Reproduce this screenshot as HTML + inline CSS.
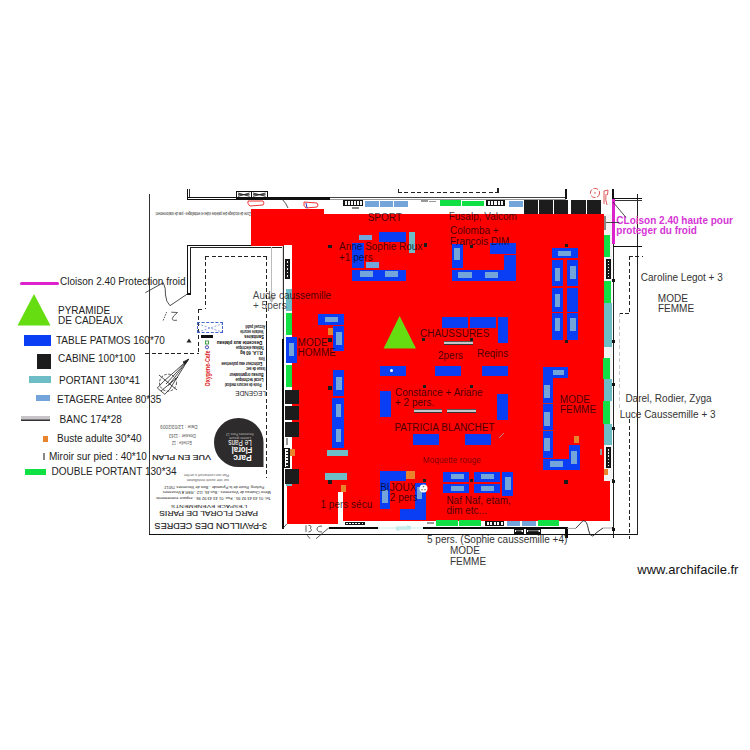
<!DOCTYPE html><html><head><meta charset="utf-8"><style>
html,body{margin:0;padding:0;background:#fff;}
body{width:750px;height:750px;position:relative;overflow:hidden;font-family:"Liberation Sans",sans-serif;}
div,span,svg{position:absolute;}
span{white-space:nowrap;}
</style></head><body>
<div style="left:149.0px;top:194.0px;width:1.0px;height:341.0px;background:#333;"></div>
<div style="left:149.0px;top:534.0px;width:489.0px;height:1.0px;background:#111;"></div>
<div style="left:637.0px;top:194.0px;width:1.0px;height:341.0px;background:#222;"></div>
<div style="left:187.0px;top:189.0px;width:1.0px;height:11.0px;background:#111;"></div>
<div style="left:189.3px;top:189.0px;width:1.0px;height:9.0px;background:#333;"></div>
<div style="left:187.0px;top:197.0px;width:143.0px;height:1.0px;background:#111;"></div>
<div style="left:330.0px;top:197.0px;width:236.0px;height:1.2px;background:#444;"></div>
<div style="left:187.0px;top:199.2px;width:143.0px;height:1.0px;background:#111;"></div>
<div style="left:330.0px;top:199.2px;width:236.0px;height:1.0px;background:#999;"></div>
<div style="left:268.0px;top:197.0px;width:62.0px;height:3.0px;background:#111;"></div>
<div style="left:236.0px;top:191.0px;width:15.8px;height:7.5px;background:#111;"></div>
<div style="left:237.1px;top:192.1px;width:13.6px;height:5.3px;background:#fff;"></div>
<svg style="left:237.1px;top:192.1px" width="13.600000000000012" height="5.3"><path d="M1 1L6.800000000000006 2.65L12.600000000000012 1M1 4.3L6.800000000000006 2.65L12.600000000000012 4.3M1 2.65L12.600000000000012 2.65" stroke="#222" stroke-width="0.9" fill="none"/></svg>
<div style="left:251.2px;top:191.0px;width:16.8px;height:7.5px;background:#111;"></div>
<div style="left:252.3px;top:192.1px;width:14.6px;height:5.3px;background:#fff;"></div>
<svg style="left:252.29999999999998px;top:192.1px" width="14.600000000000012" height="5.3"><path d="M1 1L7.300000000000006 2.65L13.600000000000012 1M1 4.3L7.300000000000006 2.65L13.600000000000012 4.3M1 2.65L13.600000000000012 2.65" stroke="#222" stroke-width="0.9" fill="none"/></svg>
<div style="left:565.0px;top:189.0px;width:2.0px;height:10.0px;background:#111;"></div>
<div style="left:612.0px;top:189.0px;width:2.0px;height:10.0px;background:#111;"></div>
<div style="left:613.0px;top:197.5px;width:29.0px;height:1.0px;background:#111;"></div>
<div style="left:613.0px;top:199.5px;width:29.0px;height:1.0px;background:#333;"></div>
<div style="left:398.0px;top:192.0px;width:100.0px;height:1px;background:repeating-linear-gradient(90deg,#222 0 4px,transparent 4px 6.5px)"></div>
<div style="left:398.0px;top:189.0px;width:1.0px;height:4.0px;background:#222;"></div>
<div style="left:497.0px;top:188.0px;width:1.5px;height:5.0px;background:#222;"></div>
<div style="left:187.0px;top:245.0px;width:97.0px;height:1.2px;background:#111;"></div>
<div style="left:189.5px;top:247.3px;width:92.5px;height:1.0px;background:#222;"></div>
<div style="left:187.0px;top:245.0px;width:1.2px;height:49.0px;background:#111;"></div>
<div style="left:189.5px;top:247.0px;width:1.0px;height:46.0px;background:#222;"></div>
<div style="left:187.0px;top:292.5px;width:3.5px;height:2.0px;background:#111;"></div>
<div style="left:271.0px;top:247.0px;width:1.0px;height:53.0px;background:#bbb;"></div>
<svg style="left:267px;top:296px" width="9" height="8"><path d="M0.5 0.5L8.5 0.5L4.5 7Z" fill="#bbb"/></svg>
<div style="left:281.5px;top:245.0px;width:2.5px;height:94.0px;background:#333;"></div>
<div style="left:282.3px;top:246.0px;width:0.9px;height:93.0px;background:#ddd;"></div>
<div style="left:281.5px;top:339.0px;width:2.5px;height:190.0px;background:#0a0a0a;"></div>
<div style="left:328.5px;top:527.0px;width:49.5px;height:2.3px;background:#0a0a0a;"></div>
<div style="left:423.0px;top:527.0px;width:144.0px;height:2.3px;background:#0a0a0a;"></div>
<div style="left:565.0px;top:527.0px;width:2.5px;height:11.0px;background:#0a0a0a;"></div>
<div style="left:378.0px;top:527.0px;width:45.0px;height:1.5px;background:#e4f6f6;"></div>
<div style="left:613.0px;top:244.0px;width:1.3px;height:294.0px;background:#222;"></div>
<div style="left:612.3px;top:279.0px;width:2.5px;height:2.5px;background:#111;"></div>
<div style="left:612.3px;top:340.0px;width:2.5px;height:2.5px;background:#111;"></div>
<div style="left:612.3px;top:383.0px;width:2.5px;height:2.5px;background:#111;"></div>
<div style="left:612.3px;top:427.0px;width:2.5px;height:2.5px;background:#111;"></div>
<div style="left:612.3px;top:480.0px;width:2.5px;height:2.5px;background:#111;"></div>
<div style="left:612.3px;top:528.0px;width:2.5px;height:2.5px;background:#111;"></div>
<div style="left:612.0px;top:199.0px;width:2.6px;height:45.0px;background:#dd22cc;"></div>
<div style="left:613.0px;top:246.0px;width:29.0px;height:1.3px;background:#111;"></div>
<div style="left:629.0px;top:256.0px;width:1px;height:57.0px;background:repeating-linear-gradient(180deg,#222 0 4px,transparent 4px 6.5px)"></div>
<div style="left:629.0px;top:255.5px;width:14.0px;height:1px;background:repeating-linear-gradient(90deg,#222 0 4px,transparent 4px 6.5px)"></div>
<div style="left:619.0px;top:313.0px;width:11.0px;height:1px;background:repeating-linear-gradient(90deg,#222 0 4px,transparent 4px 6.5px)"></div>
<div style="left:619.0px;top:313.0px;width:1px;height:96.0px;background:repeating-linear-gradient(180deg,#c8c8c8 0 4px,transparent 4px 6.5px)"></div>
<div style="left:629.0px;top:419.0px;width:1px;height:120.0px;background:repeating-linear-gradient(180deg,#222 0 4px,transparent 4px 6.5px)"></div>
<div style="left:204.5px;top:256.0px;width:1px;height:53.0px;background:repeating-linear-gradient(180deg,#222 0 4px,transparent 4px 6.5px)"></div>
<div style="left:204.5px;top:255.5px;width:62.5px;height:1px;background:repeating-linear-gradient(90deg,#222 0 4px,transparent 4px 6.5px)"></div>
<div style="left:266.0px;top:256.0px;width:1px;height:222.0px;background:repeating-linear-gradient(180deg,#222 0 4px,transparent 4px 6.5px)"></div>
<div style="left:198.0px;top:308.5px;width:7.0px;height:1px;background:repeating-linear-gradient(90deg,#222 0 4px,transparent 4px 6.5px)"></div>
<div style="left:198.0px;top:309.0px;width:1px;height:44.0px;background:repeating-linear-gradient(180deg,#222 0 4px,transparent 4px 6.5px)"></div>
<div style="left:145.0px;top:352.5px;width:54.0px;height:1px;background:repeating-linear-gradient(90deg,#222 0 4px,transparent 4px 6.5px)"></div>
<div style="left:251.0px;top:209.0px;width:73.0px;height:37.0px;background:#ff0000;"></div>
<div style="left:251.0px;top:213.7px;width:353.0px;height:32.3px;background:#ff0000;"></div>
<div style="left:292.0px;top:245.0px;width:312.0px;height:241.0px;background:#ff0000;"></div>
<div style="left:286.6px;top:486.0px;width:51.4px;height:37.8px;background:#ff0000;"></div>
<div style="left:342.7px;top:486.0px;width:267.3px;height:35.0px;background:#ff0000;"></div>
<div style="left:338.0px;top:486.0px;width:4.7px;height:5.5px;background:#ff0000;"></div>
<div style="left:604.0px;top:481.0px;width:6.0px;height:40.0px;background:#ff0000;"></div>
<svg style="left:280px;top:198px" width="12" height="12"><path d="M2 1Q6 5 8 10" stroke="#222" stroke-width="0.8" fill="none"/></svg>
<div style="left:284.0px;top:245.0px;width:8.0px;height:241.0px;background:#fff;"></div>
<div style="left:284.7px;top:259.3px;width:5.3px;height:19.4px;background:#fff;box-sizing:border-box;border:0.8px solid #111;"></div>
<div style="left:285.9px;top:260.3px;width:3.0px;height:17.4px;background:#1c1c1c;"></div>
<div style="left:286.6px;top:261.3px;width:1.6px;height:1.4px;background:#f4f4f4;"></div>
<div style="left:286.6px;top:264.8px;width:1.6px;height:1.4px;background:#f4f4f4;"></div>
<div style="left:286.6px;top:268.3px;width:1.6px;height:1.4px;background:#f4f4f4;"></div>
<div style="left:286.6px;top:271.8px;width:1.6px;height:1.4px;background:#f4f4f4;"></div>
<div style="left:286.6px;top:275.3px;width:1.6px;height:1.4px;background:#f4f4f4;"></div>
<div style="left:286.0px;top:289.3px;width:6.0px;height:22.0px;background:#6dbcc6;"></div>
<div style="left:286.0px;top:312.7px;width:6.0px;height:22.3px;background:#11e044;"></div>
<div style="left:286.0px;top:337.0px;width:10.5px;height:25.5px;background:#0a3ef5;"></div>
<div style="left:289.0px;top:342.8px;width:5.4px;height:13.2px;background:#74a5da;"></div>
<div style="left:286.0px;top:365.2px;width:6.0px;height:21.8px;background:#11e044;"></div>
<div style="left:285.0px;top:390.3px;width:14.0px;height:13.3px;background:#1c1c1c;"></div>
<div style="left:285.0px;top:406.2px;width:14.0px;height:14.1px;background:#1c1c1c;"></div>
<div style="left:285.0px;top:422.2px;width:14.0px;height:14.6px;background:#1c1c1c;"></div>
<div style="left:286.0px;top:438.0px;width:2.0px;height:7.0px;background:#999;"></div>
<div style="left:284.2px;top:447.5px;width:5.7px;height:20.2px;background:#fff;box-sizing:border-box;border:0.8px solid #111;"></div>
<div style="left:285.5px;top:448.5px;width:3.2px;height:18.2px;background:#1c1c1c;"></div>
<div style="left:286.2px;top:449.3px;width:1.6px;height:1.4px;background:#f4f4f4;"></div>
<div style="left:286.2px;top:452.3px;width:1.6px;height:1.4px;background:#f4f4f4;"></div>
<div style="left:286.2px;top:455.4px;width:1.6px;height:1.4px;background:#f4f4f4;"></div>
<div style="left:286.2px;top:458.4px;width:1.6px;height:1.4px;background:#f4f4f4;"></div>
<div style="left:286.2px;top:461.4px;width:1.6px;height:1.4px;background:#f4f4f4;"></div>
<div style="left:286.2px;top:464.5px;width:1.6px;height:1.4px;background:#f4f4f4;"></div>
<div style="left:290.0px;top:449.0px;width:5.0px;height:6.5px;background:#e8842c;"></div>
<div style="left:285.0px;top:469.0px;width:14.0px;height:14.5px;background:#1c1c1c;"></div>
<div style="left:286.0px;top:483.5px;width:6.0px;height:2.5px;background:#6dbcc6;"></div>
<div style="left:604.0px;top:214.0px;width:8.0px;height:267.0px;background:#f3f3f3;"></div>
<div style="left:604.0px;top:216.0px;width:2.0px;height:14.0px;background:#888;"></div>
<div style="left:604.4px;top:235.3px;width:5.6px;height:21.4px;background:#11e044;"></div>
<div style="left:606.0px;top:258.7px;width:5.0px;height:20.6px;background:#fff;box-sizing:border-box;border:0.8px solid #111;"></div>
<div style="left:607.1px;top:259.7px;width:2.8px;height:18.6px;background:#1c1c1c;"></div>
<div style="left:607.7px;top:260.6px;width:1.6px;height:1.4px;background:#f4f4f4;"></div>
<div style="left:607.7px;top:263.7px;width:1.6px;height:1.4px;background:#f4f4f4;"></div>
<div style="left:607.7px;top:266.8px;width:1.6px;height:1.4px;background:#f4f4f4;"></div>
<div style="left:607.7px;top:269.9px;width:1.6px;height:1.4px;background:#f4f4f4;"></div>
<div style="left:607.7px;top:273.0px;width:1.6px;height:1.4px;background:#f4f4f4;"></div>
<div style="left:607.7px;top:276.1px;width:1.6px;height:1.4px;background:#f4f4f4;"></div>
<div style="left:604.0px;top:280.7px;width:7.0px;height:22.0px;background:#11e044;"></div>
<div style="left:604.0px;top:302.7px;width:8.0px;height:44.0px;background:#6dbcc6;"></div>
<div style="left:603.3px;top:358.0px;width:6.7px;height:20.7px;background:#11e044;"></div>
<div style="left:604.0px;top:378.7px;width:8.0px;height:22.6px;background:#6dbcc6;"></div>
<div style="left:603.3px;top:401.3px;width:6.7px;height:22.4px;background:#11e044;"></div>
<div style="left:604.0px;top:423.7px;width:8.0px;height:21.6px;background:#6dbcc6;"></div>
<div style="left:606.0px;top:447.3px;width:5.0px;height:20.7px;background:#fff;box-sizing:border-box;border:0.8px solid #111;"></div>
<div style="left:607.1px;top:448.3px;width:2.8px;height:18.7px;background:#1c1c1c;"></div>
<div style="left:607.7px;top:449.2px;width:1.6px;height:1.4px;background:#f4f4f4;"></div>
<div style="left:607.7px;top:452.3px;width:1.6px;height:1.4px;background:#f4f4f4;"></div>
<div style="left:607.7px;top:455.4px;width:1.6px;height:1.4px;background:#f4f4f4;"></div>
<div style="left:607.7px;top:458.5px;width:1.6px;height:1.4px;background:#f4f4f4;"></div>
<div style="left:607.7px;top:461.6px;width:1.6px;height:1.4px;background:#f4f4f4;"></div>
<div style="left:607.7px;top:464.7px;width:1.6px;height:1.4px;background:#f4f4f4;"></div>
<div style="left:604.0px;top:469.3px;width:4.0px;height:5.4px;background:#e8842c;"></div>
<div style="left:600.0px;top:449.0px;width:1.5px;height:6.0px;background:#999;"></div>
<div style="left:343.3px;top:200.3px;width:20.0px;height:5.4px;background:#111;"></div>
<div style="left:344.9px;top:201.3px;width:1.8px;height:3.4px;background:#f4f4f4;"></div>
<div style="left:347.9px;top:201.3px;width:1.8px;height:3.4px;background:#f4f4f4;"></div>
<div style="left:350.9px;top:201.3px;width:1.8px;height:3.4px;background:#f4f4f4;"></div>
<div style="left:353.9px;top:201.3px;width:1.8px;height:3.4px;background:#f4f4f4;"></div>
<div style="left:356.9px;top:201.3px;width:1.8px;height:3.4px;background:#f4f4f4;"></div>
<div style="left:359.9px;top:201.3px;width:1.8px;height:3.4px;background:#f4f4f4;"></div>
<div style="left:352.0px;top:207.0px;width:7.0px;height:2.0px;background:#888;"></div>
<div style="left:365.0px;top:201.0px;width:13.6px;height:5.6px;background:#74a5da;"></div>
<div style="left:379.6px;top:201.0px;width:13.6px;height:5.6px;background:#74a5da;"></div>
<div style="left:394.2px;top:201.0px;width:13.8px;height:5.6px;background:#74a5da;"></div>
<div style="left:421.0px;top:200.2px;width:7.0px;height:1.4px;background:#999;"></div>
<div style="left:429.0px;top:200.6px;width:7.0px;height:1.4px;background:#999;"></div>
<div style="left:440.0px;top:200.0px;width:20.7px;height:6.4px;background:#11e044;"></div>
<div style="left:462.0px;top:200.7px;width:22.0px;height:5.3px;background:#11e044;"></div>
<div style="left:486.0px;top:200.0px;width:19.0px;height:6.0px;background:#111;"></div>
<div style="left:487.6px;top:201.0px;width:2.2px;height:4.0px;background:#f4f4f4;"></div>
<div style="left:491.0px;top:201.0px;width:2.2px;height:4.0px;background:#f4f4f4;"></div>
<div style="left:494.4px;top:201.0px;width:2.2px;height:4.0px;background:#f4f4f4;"></div>
<div style="left:497.8px;top:201.0px;width:2.2px;height:4.0px;background:#f4f4f4;"></div>
<div style="left:501.2px;top:201.0px;width:2.2px;height:4.0px;background:#f4f4f4;"></div>
<div style="left:508.8px;top:200.8px;width:14.4px;height:6.1px;background:#74a5da;"></div>
<div style="left:524.3px;top:199.5px;width:13.7px;height:14.5px;background:#1c1c1c;"></div>
<div style="left:539.0px;top:199.5px;width:14.0px;height:14.5px;background:#1c1c1c;"></div>
<div style="left:554.0px;top:199.5px;width:14.0px;height:14.5px;background:#1c1c1c;"></div>
<div style="left:571.0px;top:199.5px;width:14.5px;height:14.5px;background:#1c1c1c;"></div>
<div style="left:586.5px;top:199.5px;width:14.3px;height:14.5px;background:#1c1c1c;"></div>
<svg style="left:246px;top:199px" width="20" height="9"><path d="M2 2L17 2Q19 4 17 6L4 7Q1 5 2 2Z" stroke="#e33" stroke-width="1" fill="none"/></svg>
<svg style="left:302px;top:199.5px" width="18" height="10"><path d="M2 2L15 3Q17 5 15 7L4 8Q1 6 2 2Z" stroke="#e33" stroke-width="1" fill="none"/><path d="M4 3L5 8" stroke="#33c" stroke-width="1"/></svg>
<svg style="left:588px;top:186px" width="24" height="22"><circle cx="7" cy="7" r="4.6" stroke="#d44" stroke-width="0.9" fill="none" stroke-dasharray="5 1.5"/><circle cx="7" cy="7" r="0.8" fill="#d44"/><path d="M16 5L16 18M16 5L20 4L19.5 9M18 8Q17 14 19 19" stroke="#d44" stroke-width="0.9" fill="none"/></svg>
<div style="left:344.5px;top:521.7px;width:20.5px;height:3.6px;background:#111;"></div>
<div style="left:346.1px;top:522.7px;width:1.9px;height:1.6px;background:#f4f4f4;"></div>
<div style="left:349.2px;top:522.7px;width:1.9px;height:1.6px;background:#f4f4f4;"></div>
<div style="left:352.3px;top:522.7px;width:1.9px;height:1.6px;background:#f4f4f4;"></div>
<div style="left:355.4px;top:522.7px;width:1.9px;height:1.6px;background:#f4f4f4;"></div>
<div style="left:358.4px;top:522.7px;width:1.9px;height:1.6px;background:#f4f4f4;"></div>
<div style="left:361.5px;top:522.7px;width:1.9px;height:1.6px;background:#f4f4f4;"></div>
<div style="left:427.0px;top:522.0px;width:7.0px;height:2.0px;background:#999;"></div>
<div style="left:436.0px;top:520.0px;width:22.0px;height:5.6px;background:#11e044;"></div>
<div style="left:459.0px;top:520.0px;width:22.0px;height:5.6px;background:#11e044;"></div>
<div style="left:485.0px;top:521.0px;width:19.4px;height:5.0px;background:#111;"></div>
<div style="left:486.6px;top:522.0px;width:2.3px;height:3.0px;background:#f4f4f4;"></div>
<div style="left:490.1px;top:522.0px;width:2.3px;height:3.0px;background:#f4f4f4;"></div>
<div style="left:493.6px;top:522.0px;width:2.3px;height:3.0px;background:#f4f4f4;"></div>
<div style="left:497.0px;top:522.0px;width:2.3px;height:3.0px;background:#f4f4f4;"></div>
<div style="left:500.5px;top:522.0px;width:2.3px;height:3.0px;background:#f4f4f4;"></div>
<div style="left:507.0px;top:520.5px;width:13.0px;height:5.1px;background:#74a5da;"></div>
<div style="left:522.0px;top:520.5px;width:13.6px;height:5.1px;background:#74a5da;"></div>
<div style="left:538.0px;top:520.0px;width:20.8px;height:5.6px;background:#11e044;"></div>
<div style="left:514.0px;top:528.5px;width:10.0px;height:5.0px;background:#111;"></div>
<div style="left:515.3px;top:529.8px;width:7.4px;height:2.4px;background:#fff;"></div>
<svg style="left:515.3px;top:529.8px" width="7.4" height="2.4"><path d="M1 1L3.7 1.2L6.4 1M1 1.4L3.7 1.2L6.4 1.4M1 1.2L6.4 1.2" stroke="#222" stroke-width="0.9" fill="none"/></svg>
<div style="left:526.0px;top:528.5px;width:15.0px;height:5.0px;background:#111;"></div>
<div style="left:527.3px;top:529.8px;width:12.4px;height:2.4px;background:#fff;"></div>
<svg style="left:527.3px;top:529.8px" width="12.4" height="2.4"><path d="M1 1L6.2 1.2L11.4 1M1 1.4L6.2 1.2L11.4 1.4M1 1.2L11.4 1.2" stroke="#222" stroke-width="0.9" fill="none"/></svg>
<svg style="left:566px;top:518px" width="48" height="22"><path d="M1 10.4L9.7 10.4M37 10L47 10" stroke="#999" stroke-width="0.9" fill="none"/><path d="M9.7 10.4L17 2.7Q21 2 22.5 12Q23.5 18 26.5 18Q28 18 30 15L37 10" stroke="#222" stroke-width="0.9" fill="none"/></svg>
<div style="left:612.3px;top:479.0px;width:2.0px;height:2.0px;background:#1c1c1c;"></div>
<div style="left:612.3px;top:527.0px;width:2.0px;height:2.0px;background:#1c1c1c;"></div>
<svg style="left:280px;top:518px" width="60" height="24"><g stroke="#333" stroke-width="0.8" fill="none"><path d="M2.7 10.7L6.7 6"/><path d="M26 7.3L26 14"/><path d="M28.5 7.5Q32 7 30.5 10.5Q33 13 28.5 14"/><path d="M42 8Q37 8 37 11Q37 14 42 14"/><path d="M27.3 17.3L30 20.7"/><path d="M36 20.7L48.7 10"/></g></svg>
<svg style="left:395px;top:524px" width="18" height="8"><path d="M1 3L16 3M1 5L16 5M12 1.5L15 3M4 6.5L1 5" stroke="#9dd" stroke-width="0.8" fill="none"/></svg>
<div style="left:359.0px;top:235.0px;width:13.0px;height:5.0px;background:#74a5da;"></div>
<div style="left:379.3px;top:232.3px;width:26.3px;height:9.7px;background:#0a3ef5;"></div>
<div style="left:408.7px;top:232.3px;width:6.6px;height:21.0px;background:#6dbcc6;"></div>
<div style="left:352.3px;top:242.7px;width:11.7px;height:25.3px;background:#0a3ef5;"></div>
<div style="left:366.0px;top:262.4px;width:13.0px;height:5.3px;background:#74a5da;"></div>
<div style="left:352.3px;top:270.0px;width:53.3px;height:10.7px;background:#0a3ef5;"></div>
<div style="left:360.0px;top:271.3px;width:12.7px;height:5.7px;background:#74a5da;"></div>
<div style="left:385.0px;top:271.3px;width:13.0px;height:5.7px;background:#74a5da;"></div>
<div style="left:328.3px;top:244.5px;width:3.5px;height:3.5px;background:#1c1c1c;"></div>
<div style="left:423.7px;top:243.3px;width:3.3px;height:3.3px;background:#1c1c1c;"></div>
<div style="left:452.0px;top:243.7px;width:10.7px;height:24.0px;background:#0a3ef5;"></div>
<div style="left:454.0px;top:247.7px;width:5.6px;height:12.6px;background:#74a5da;"></div>
<div style="left:452.0px;top:270.0px;width:64.0px;height:10.7px;background:#0a3ef5;"></div>
<div style="left:458.3px;top:271.7px;width:13.3px;height:6.0px;background:#74a5da;"></div>
<div style="left:484.7px;top:271.7px;width:13.3px;height:6.0px;background:#74a5da;"></div>
<div style="left:504.0px;top:255.4px;width:12.0px;height:14.6px;background:#0a3ef5;"></div>
<div style="left:490.0px;top:243.0px;width:26.0px;height:11.2px;background:#0a3ef5;"></div>
<div style="left:470.0px;top:244.5px;width:3.0px;height:3.0px;background:#1c1c1c;"></div>
<div style="left:552.0px;top:248.0px;width:26.0px;height:10.2px;background:#0a3ef5;"></div>
<div style="left:558.0px;top:250.8px;width:13.3px;height:5.5px;background:#74a5da;"></div>
<div style="left:552.0px;top:260.0px;width:10.6px;height:26.0px;background:#0a3ef5;"></div>
<div style="left:567.4px;top:260.0px;width:10.6px;height:26.0px;background:#0a3ef5;"></div>
<div style="left:552.0px;top:287.5px;width:10.6px;height:24.5px;background:#0a3ef5;"></div>
<div style="left:567.4px;top:287.5px;width:10.6px;height:24.5px;background:#0a3ef5;"></div>
<div style="left:552.0px;top:313.4px;width:10.6px;height:26.4px;background:#0a3ef5;"></div>
<div style="left:567.4px;top:313.4px;width:10.6px;height:26.4px;background:#0a3ef5;"></div>
<div style="left:555.0px;top:268.0px;width:5.0px;height:12.7px;background:#74a5da;"></div>
<div style="left:555.0px;top:293.7px;width:5.0px;height:13.1px;background:#74a5da;"></div>
<div style="left:555.0px;top:317.8px;width:5.0px;height:13.2px;background:#74a5da;"></div>
<div style="left:570.0px;top:265.8px;width:5.7px;height:13.2px;background:#74a5da;"></div>
<div style="left:570.0px;top:317.8px;width:5.7px;height:13.2px;background:#74a5da;"></div>
<div style="left:565.0px;top:244.0px;width:3.0px;height:3.0px;background:#1c1c1c;"></div>
<div style="left:565.0px;top:340.0px;width:2.5px;height:2.5px;background:#1c1c1c;"></div>
<div style="left:318.0px;top:314.0px;width:25.7px;height:10.7px;background:#0a3ef5;"></div>
<div style="left:325.0px;top:316.7px;width:13.0px;height:5.3px;background:#74a5da;"></div>
<div style="left:328.0px;top:328.0px;width:4.7px;height:6.7px;background:#e8842c;"></div>
<div style="left:333.3px;top:326.0px;width:10.5px;height:25.3px;background:#0a3ef5;"></div>
<div style="left:336.0px;top:332.0px;width:6.0px;height:13.0px;background:#74a5da;"></div>
<div style="left:328.2px;top:338.3px;width:3.5px;height:3.5px;background:#1c1c1c;"></div>
<div style="left:333.3px;top:370.3px;width:10.5px;height:25.3px;background:#0a3ef5;"></div>
<div style="left:336.0px;top:376.7px;width:6.0px;height:13.0px;background:#74a5da;"></div>
<div style="left:332.3px;top:398.3px;width:11.5px;height:49.7px;background:#0a3ef5;"></div>
<div style="left:336.0px;top:404.0px;width:5.0px;height:13.0px;background:#74a5da;"></div>
<div style="left:336.0px;top:429.3px;width:5.0px;height:12.7px;background:#74a5da;"></div>
<div style="left:328.0px;top:386.0px;width:3.5px;height:3.5px;background:#1c1c1c;"></div>
<div style="left:327.0px;top:449.6px;width:21.3px;height:6.4px;background:#6dbcc6;"></div>
<div style="left:325.3px;top:473.3px;width:21.7px;height:6.7px;background:#6dbcc6;"></div>
<div style="left:328.0px;top:480.0px;width:3.5px;height:3.5px;background:#1c1c1c;"></div>
<div style="left:341.0px;top:485.0px;width:5.0px;height:7.0px;background:#e8842c;"></div>
<div style="left:338.0px;top:491.5px;width:4.7px;height:32.3px;background:#fff;"></div>
<svg style="left:383px;top:315px" width="34" height="35"><path d="M16.6 1L33 33.6L0.6 33.6Z" fill="#66dd11"/></svg>
<div style="left:442.0px;top:316.6px;width:26.0px;height:11.4px;background:#0a3ef5;"></div>
<div style="left:470.0px;top:316.6px;width:25.6px;height:11.4px;background:#0a3ef5;"></div>
<div style="left:497.6px;top:316.6px;width:10.0px;height:26.0px;background:#0a3ef5;"></div>
<div style="left:444.4px;top:341.0px;width:28.6px;height:4.2px;background:#c8c4c8;box-shadow:inset 0 -1px 0 #333,inset 0 1px 0 #555;"></div>
<div style="left:422.0px;top:338.0px;width:3.0px;height:3.0px;background:#1c1c1c;"></div>
<div style="left:469.5px;top:338.0px;width:3.0px;height:3.0px;background:#1c1c1c;"></div>
<div style="left:380.0px;top:366.0px;width:26.0px;height:10.0px;background:#0a3ef5;"></div>
<div style="left:390.0px;top:369.0px;width:3.0px;height:3.0px;background:#fff;border-radius:50%;"></div>
<div style="left:435.0px;top:366.0px;width:26.0px;height:10.0px;background:#0a3ef5;"></div>
<div style="left:482.0px;top:366.0px;width:26.0px;height:10.0px;background:#0a3ef5;"></div>
<div style="left:380.4px;top:391.4px;width:10.6px;height:25.6px;background:#0a3ef5;"></div>
<div style="left:497.0px;top:394.0px;width:11.0px;height:26.0px;background:#0a3ef5;"></div>
<div style="left:413.6px;top:408.6px;width:28.8px;height:4.6px;background:#c8c4c8;box-shadow:inset 0 -1px 0 #333,inset 0 1px 0 #555;"></div>
<div style="left:447.0px;top:408.6px;width:29.0px;height:4.6px;background:#c8c4c8;box-shadow:inset 0 -1px 0 #333,inset 0 1px 0 #555;"></div>
<div style="left:423.0px;top:385.0px;width:3.0px;height:3.0px;background:#1c1c1c;"></div>
<div style="left:470.0px;top:385.0px;width:3.0px;height:3.0px;background:#1c1c1c;"></div>
<div style="left:413.0px;top:434.0px;width:26.0px;height:11.4px;background:#0a3ef5;"></div>
<div style="left:465.0px;top:434.0px;width:26.0px;height:11.4px;background:#0a3ef5;"></div>
<svg style="left:498px;top:431px" width="8" height="8"><path d="M1 7L6 2" stroke="#b88" stroke-width="1"/></svg>
<div style="left:542.5px;top:366.5px;width:25.5px;height:11.2px;background:#0a3ef5;"></div>
<div style="left:551.0px;top:370.0px;width:13.0px;height:5.1px;background:#74a5da;"></div>
<div style="left:542.5px;top:366.5px;width:10.5px;height:91.8px;background:#0a3ef5;"></div>
<div style="left:542.5px;top:403.3px;width:10.5px;height:1.0px;background:#c03030;"></div>
<div style="left:542.5px;top:430.3px;width:10.5px;height:1.0px;background:#c03030;"></div>
<div style="left:544.2px;top:384.7px;width:6.1px;height:13.5px;background:#74a5da;"></div>
<div style="left:544.2px;top:412.4px;width:6.1px;height:13.5px;background:#74a5da;"></div>
<div style="left:544.2px;top:437.5px;width:6.1px;height:13.0px;background:#74a5da;"></div>
<div style="left:542.5px;top:459.2px;width:26.0px;height:10.4px;background:#0a3ef5;"></div>
<div style="left:550.3px;top:461.3px;width:13.0px;height:5.7px;background:#74a5da;"></div>
<div style="left:569.3px;top:444.5px;width:10.4px;height:25.1px;background:#0a3ef5;"></div>
<div style="left:571.0px;top:450.5px;width:6.0px;height:13.0px;background:#74a5da;"></div>
<div style="left:573.7px;top:435.8px;width:5.3px;height:6.9px;background:#e8842c;"></div>
<div style="left:564.0px;top:480.0px;width:3.5px;height:3.5px;background:#1c1c1c;"></div>
<div style="left:380.2px;top:471.0px;width:25.8px;height:10.4px;background:#0a3ef5;"></div>
<div style="left:380.2px;top:471.0px;width:10.2px;height:38.0px;background:#0a3ef5;"></div>
<div style="left:382.0px;top:489.8px;width:6.0px;height:13.2px;background:#74a5da;"></div>
<div style="left:406.0px;top:471.0px;width:9.0px;height:8.0px;background:#e8842c;"></div>
<div style="left:415.0px;top:482.6px;width:10.8px;height:37.8px;background:#0a3ef5;"></div>
<div style="left:416.8px;top:486.8px;width:5.4px;height:12.6px;background:#74a5da;"></div>
<div style="left:400.0px;top:509.4px;width:25.8px;height:11.0px;background:#0a3ef5;"></div>
<div style="left:423.4px;top:478.7px;width:3.0px;height:3.0px;background:#1c1c1c;"></div>
<svg style="left:418.5px;top:483.5px" width="9" height="9"><circle cx="4.5" cy="4.5" r="4" fill="#fff"/><circle cx="4.5" cy="2.6" r="0.8" fill="#777"/><circle cx="3" cy="5.8" r="0.8" fill="#777"/><circle cx="6" cy="5.8" r="0.8" fill="#777"/></svg>
<div style="left:443.2px;top:471.5px;width:26.0px;height:10.8px;background:#0a3ef5;"></div>
<div style="left:443.2px;top:483.8px;width:26.0px;height:9.6px;background:#0a3ef5;"></div>
<div style="left:450.6px;top:474.2px;width:13.4px;height:4.8px;background:#74a5da;"></div>
<div style="left:450.6px;top:486.2px;width:13.4px;height:4.8px;background:#74a5da;"></div>
<div style="left:473.7px;top:471.5px;width:26.1px;height:10.8px;background:#0a3ef5;"></div>
<div style="left:473.7px;top:483.8px;width:26.1px;height:9.6px;background:#0a3ef5;"></div>
<div style="left:481.2px;top:474.2px;width:12.8px;height:4.8px;background:#74a5da;"></div>
<div style="left:481.2px;top:486.2px;width:12.8px;height:4.8px;background:#74a5da;"></div>
<div style="left:502.2px;top:471.5px;width:11.1px;height:24.9px;background:#0a3ef5;"></div>
<div style="left:505.2px;top:477.2px;width:5.4px;height:13.0px;background:#74a5da;"></div>
<div style="left:470.4px;top:479.0px;width:3.0px;height:3.0px;background:#1c1c1c;"></div>
<span style="left:367.7px;top:213.0px;font-size:10px;line-height:10px;color:rgba(0,0,0,0.74);font-weight:normal;">SPORT</span>
<span style="left:339.0px;top:242.2px;font-size:10px;line-height:10px;color:rgba(0,0,0,0.74);font-weight:normal;">Anne Sophie Roux</span>
<span style="left:339.0px;top:252.7px;font-size:10px;line-height:10px;color:rgba(0,0,0,0.74);font-weight:normal;">+1 pers</span>
<span style="left:448.7px;top:212.0px;font-size:10px;line-height:10px;color:rgba(0,0,0,0.74);font-weight:normal;">Fusalp, Valcom</span>
<span style="left:450.0px;top:225.7px;font-size:10px;line-height:10px;color:rgba(0,0,0,0.74);font-weight:normal;">Colomba +</span>
<span style="left:450.0px;top:237.0px;font-size:10px;line-height:10px;color:rgba(0,0,0,0.74);font-weight:normal;">Francois DIM</span>
<span style="left:252.8px;top:291.0px;font-size:10px;line-height:10px;color:rgba(0,0,0,0.74);font-weight:normal;">Aude caussemille</span>
<span style="left:253.0px;top:300.7px;font-size:10px;line-height:10px;color:rgba(0,0,0,0.74);font-weight:normal;">+ 5pers</span>
<span style="left:297.6px;top:337.7px;font-size:10px;line-height:10px;color:rgba(0,0,0,0.74);font-weight:normal;">MODE</span>
<span style="left:297.6px;top:347.9px;font-size:10px;line-height:10px;color:rgba(0,0,0,0.74);font-weight:normal;">HOMME</span>
<span style="left:420.0px;top:328.7px;font-size:10px;line-height:10px;color:rgba(0,0,0,0.74);font-weight:normal;">CHAUSSURES</span>
<span style="left:438.0px;top:350.7px;font-size:10px;line-height:10px;color:rgba(0,0,0,0.74);font-weight:normal;">2pers</span>
<span style="left:477.0px;top:349.3px;font-size:10px;line-height:10px;color:rgba(0,0,0,0.74);font-weight:normal;">Reqins</span>
<span style="left:395.0px;top:388.1px;font-size:10px;line-height:10px;color:rgba(0,0,0,0.74);font-weight:normal;">Constance + Ariane</span>
<span style="left:395.0px;top:398.1px;font-size:10px;line-height:10px;color:rgba(0,0,0,0.74);font-weight:normal;">+ 2 pers.</span>
<span style="left:394.4px;top:422.7px;font-size:10px;line-height:10px;color:rgba(0,0,0,0.74);font-weight:normal;">PATRICIA BLANCHET</span>
<span style="left:559.8px;top:395.1px;font-size:10px;line-height:10px;color:rgba(0,0,0,0.74);font-weight:normal;">MODE</span>
<span style="left:560.0px;top:404.5px;font-size:10px;line-height:10px;color:rgba(0,0,0,0.74);font-weight:normal;">FEMME</span>
<span style="left:422.8px;top:456.3px;font-size:8.3px;line-height:8.3px;color:rgba(0,0,0,0.55);font-weight:normal;">Moquette rouge</span>
<span style="left:380.2px;top:482.5px;font-size:10px;line-height:10px;color:rgba(0,0,0,0.74);font-weight:normal;">BIJOUX</span>
<span style="left:389.8px;top:493.3px;font-size:10px;line-height:10px;color:rgba(0,0,0,0.74);font-weight:normal;">2 pers</span>
<span style="left:446.4px;top:496.1px;font-size:10px;line-height:10px;color:rgba(0,0,0,0.74);font-weight:normal;">Naf Naf, etam,</span>
<span style="left:446.4px;top:505.9px;font-size:10px;line-height:10px;color:rgba(0,0,0,0.74);font-weight:normal;">dim etc...</span>
<span style="left:320.5px;top:500.3px;font-size:10px;line-height:10px;color:rgba(0,0,0,0.74);font-weight:normal;">1 pers sécu</span>
<span style="left:427.0px;top:535.2px;font-size:10px;line-height:10px;color:#333;font-weight:normal;">5 pers. (Sophie caussemille +4)</span>
<span style="left:450.0px;top:546.1px;font-size:10px;line-height:10px;color:#333;font-weight:normal;">MODE</span>
<span style="left:450.0px;top:556.9px;font-size:10px;line-height:10px;color:#333;font-weight:normal;">FEMME</span>
<span style="left:640.8px;top:273.0px;font-size:10px;line-height:10px;color:#333;font-weight:normal;">Caroline Legot + 3</span>
<span style="left:657.8px;top:293.9px;font-size:10px;line-height:10px;color:#333;font-weight:normal;">MODE</span>
<span style="left:658.0px;top:304.1px;font-size:10px;line-height:10px;color:#333;font-weight:normal;">FEMME</span>
<span style="left:625.4px;top:393.7px;font-size:10px;line-height:10px;color:#333;font-weight:normal;">Darel, Rodier, Zyga</span>
<span style="left:619.7px;top:409.7px;font-size:10px;line-height:10px;color:#333;font-weight:normal;">Luce Caussemille + 3</span>
<span style="left:616.3px;top:215.9px;font-size:10px;line-height:10px;color:#d535d5;font-weight:bold;">CLoison 2.40 haute pour</span>
<span style="left:616.3px;top:225.6px;font-size:10px;line-height:10px;color:#d535d5;font-weight:bold;">proteger du froid</span>
<span style="left:637.3px;top:563.3px;font-size:13px;line-height:13px;color:#111;font-weight:normal;">www.archifacile.fr</span>
<svg style="left:606px;top:199px" width="26" height="50" viewBox="-6 0 26 50"><path d="M1 3L14 18.5M-6 23.5L7 23.5" stroke="#222" stroke-width="0.8" fill="none"/></svg>
<div style="left:20.0px;top:281.5px;width:39.0px;height:3.0px;background:#dd22cc;border-radius:1.5px;"></div>
<svg style="left:17px;top:293px" width="35" height="34"><path d="M17 1L33.5 32.5L0.5 32.5Z" fill="#66dd11"/></svg>
<div style="left:24.0px;top:335.0px;width:27.0px;height:10.7px;background:#0a3ef5;"></div>
<div style="left:37.0px;top:354.0px;width:14.0px;height:14.7px;background:#1c1c1c;"></div>
<div style="left:29.0px;top:376.2px;width:22.0px;height:6.7px;background:#6dbcc6;"></div>
<div style="left:36.0px;top:395.2px;width:14.0px;height:6.3px;background:#74a5da;"></div>
<div style="left:21.0px;top:416.2px;width:29.0px;height:4.6px;background:#c8c4c8;box-shadow:inset 0 -1.5px 0 #333;"></div>
<div style="left:43.0px;top:436.3px;width:5.0px;height:5.4px;background:#e8842c;"></div>
<div style="left:43.0px;top:453.3px;width:2.0px;height:6.7px;background:#888;"></div>
<div style="left:25.0px;top:469.0px;width:21.0px;height:5.8px;background:#11e044;"></div>
<span style="left:60.0px;top:277.1px;font-size:10px;line-height:10px;color:#222;font-weight:normal;">Cloison 2.40 Protection froid</span>
<span style="left:58.0px;top:305.7px;font-size:10px;line-height:10px;color:#222;font-weight:normal;">PYRAMIDE</span>
<span style="left:58.0px;top:316.2px;font-size:10px;line-height:10px;color:#222;font-weight:normal;">DE CADEAUX</span>
<span style="left:56.0px;top:335.7px;font-size:10px;line-height:10px;color:#222;font-weight:normal;">TABLE PATMOS 160*70</span>
<span style="left:58.0px;top:354.3px;font-size:10px;line-height:10px;color:#222;font-weight:normal;">CABINE 100*100</span>
<span style="left:59.0px;top:375.7px;font-size:10px;line-height:10px;color:#222;font-weight:normal;">PORTANT 130*41</span>
<span style="left:57.0px;top:395.1px;font-size:10px;line-height:10px;color:#222;font-weight:normal;">ETAGERE Antee 80*35</span>
<span style="left:59.6px;top:414.7px;font-size:10px;line-height:10px;color:#222;font-weight:normal;">BANC 174*28</span>
<span style="left:57.0px;top:433.7px;font-size:10px;line-height:10px;color:#222;font-weight:normal;">Buste adulte 30*40</span>
<span style="left:49.0px;top:451.7px;font-size:10px;line-height:10px;color:#222;font-weight:normal;">Miroir sur pied : 40*10</span>
<span style="left:51.6px;top:466.7px;font-size:10px;line-height:10px;color:#222;font-weight:normal;">DOUBLE PORTANT 130*34</span>
<svg style="left:140px;top:270px" width="50" height="40"><path d="M5.3 22.7L23.3 12.7Q26 18 25.5 25Q26 32 30 35.7L48.3 23.3" stroke="#222" stroke-width="0.8" fill="none"/></svg>
<svg style="left:160px;top:308px" width="22" height="16"><path d="M3.2 12.5L6.6 4" stroke="#333" stroke-width="0.8" stroke-dasharray="1.6 1" fill="none"/><path d="M11.3 4.2L17.5 4.5Q12.5 8.5 12.3 10.5Q12 13 17 12.2" stroke="#333" stroke-width="0.8" fill="none"/></svg>
<svg style="left:150px;top:350px" width="50" height="50"><g stroke="#222" stroke-width="0.8" fill="none"><path d="M38.5 9.3L13.3 31.7M38.5 9.3L20 38.7M38.5 9.3L16 34M38.5 9.3L18.5 35.5"/><path d="M38.5 9.3L35 14L33 12Z" fill="#222"/><path d="M13.3 31.7L7.3 38L14.8 44.3L20.5 38.5"/><circle cx="18" cy="32.7" r="8.5" stroke-dasharray="2.5 1.5"/><path d="M9 25L27 40M11 41L28 27"/></g></svg>
<span style="left:127.2px;top:209.9px;font-size:4.6px;line-height:4.6px;color:#222;font-weight:normal;letter-spacing:0.0px;transform:rotate(180deg) scaleX(0.6222862613010717);">Zone de stockage des palettes vides et emballages - pas de stationnement</span>
<svg style="left:213px;top:417px" width="53" height="53"><path d="M25.5 1A24.5 24.5 0 1 0 25.5 50L50.5 50L50.5 25.5A24.5 24.5 0 0 0 25.5 1Z" fill="#2e2b2c"/></svg>
<span style="left:233.2px;top:452.6px;font-size:8.8px;line-height:8.8px;color:#fff;font-weight:bold;letter-spacing:0.0px;transform:rotate(180deg) scaleX(0.97);">Parc</span>
<span style="left:229.7px;top:444.9px;font-size:8.8px;line-height:8.8px;color:#fff;font-weight:bold;letter-spacing:0.0px;transform:rotate(180deg) scaleX(0.86);">Floral</span>
<span style="left:225.2px;top:438.3px;font-size:8.2px;line-height:8.2px;color:#fff;font-weight:normal;letter-spacing:0.0px;transform:rotate(180deg) scaleX(0.78);">Le Paris</span>
<span style="left:227.9px;top:436.4px;font-size:4.2px;line-height:4.2px;color:#bbb;font-weight:normal;letter-spacing:0.0px;transform:rotate(180deg) scaleX(0.9062448508815291);">Lorem ipsum</span>
<span style="left:221.9px;top:432.2px;font-size:4.2px;line-height:4.2px;color:#bbb;font-weight:normal;letter-spacing:0.0px;transform:rotate(180deg) scaleX(0.7753346659397904);">Vincennes Paris 12</span>
<span style="left:160.0px;top:520.7px;font-size:8.2px;line-height:8.2px;color:#1a1a1a;font-weight:normal;letter-spacing:0.0px;transform:rotate(180deg) scaleX(1.1073466728322394);-webkit-text-stroke:0.12px #1a1a1a;">3-PAVILLON DES CEDRES</span>
<span style="left:166.4px;top:509.9px;font-size:7.3px;line-height:7.3px;color:#1a1a1a;font-weight:normal;letter-spacing:0.0px;transform:rotate(180deg) scaleX(1.1560938828972265);-webkit-text-stroke:0.12px #1a1a1a;">PARC FLORAL DE PARIS</span>
<span style="left:183.0px;top:503.8px;font-size:4.4px;line-height:4.4px;color:#222;font-weight:normal;letter-spacing:0.0px;transform:rotate(180deg) scaleX(1.4574010437465041);">L'ESPACE EVENEMENTS</span>
<span style="left:158.6px;top:484.8px;font-size:4.3px;line-height:4.3px;color:#222;font-weight:normal;letter-spacing:0.0px;transform:rotate(180deg) scaleX(0.9022405452239616);">Parking: Route de la Pyramide - Bois de Vincennes 75012</span>
<span style="left:156.8px;top:490.1px;font-size:4.3px;line-height:4.3px;color:#222;font-weight:normal;letter-spacing:0.0px;transform:rotate(180deg) scaleX(0.9017982538226781);">Metro Chateau de Vincennes - Bus 46, 112 - RER A Vincennes</span>
<span style="left:152.9px;top:495.5px;font-size:4.3px;line-height:4.3px;color:#222;font-weight:normal;letter-spacing:0.0px;transform:rotate(180deg) scaleX(0.9482446597296479);">Tel: 01 43 43 92 95 - Fax: 01 43 43 92 96 - espace evenements</span>
<span style="left:180.2px;top:472.9px;font-size:4px;line-height:4px;color:#555;font-weight:normal;letter-spacing:0.0px;transform:rotate(180deg) scaleX(0.8560191801207027);">Plan non contractuel a verifier</span>
<span style="left:186.2px;top:477.6px;font-size:4px;line-height:4px;color:#555;font-weight:normal;letter-spacing:0.0px;transform:rotate(180deg) scaleX(0.9657189740662793);">sur site avant installation</span>
<span style="left:160.8px;top:422.8px;font-size:4.5px;line-height:4.5px;color:#555;font-weight:normal;letter-spacing:0.0px;transform:rotate(180deg) scaleX(1.0425250837946136);">Date : 12/03/2009</span>
<span style="left:168.2px;top:431.9px;font-size:4.5px;line-height:4.5px;color:#555;font-weight:normal;letter-spacing:0.0px;transform:rotate(180deg) scaleX(0.9413725898777932);">Dossier : 1163</span>
<span style="left:170.0px;top:439.0px;font-size:4.5px;line-height:4.5px;color:#555;font-weight:normal;letter-spacing:0.0px;transform:rotate(180deg) scaleX(0.8456342181562111);">Echelle :   12</span>
<span style="left:155.2px;top:453.2px;font-size:8px;line-height:8px;color:#111;font-weight:normal;letter-spacing:0.0px;transform:rotate(180deg) scaleX(1.1151406329368128);-webkit-text-stroke:0.15px #111;">VUE EN PLAN</span>
<svg style="left:185.5px;top:338px" width="6" height="5"><path d="M3 0.5L5.5 4.5L0.5 4.5Z" fill="#222"/></svg>
<span style="left:232.1px;top:388.5px;font-size:7.8px;line-height:7.8px;color:#222;font-weight:normal;letter-spacing:0.0px;transform:rotate(180deg) scaleX(0.82);">LEGENDE</span>
<span style="left:240.7px;top:322.6px;font-size:4.6px;line-height:4.6px;color:#000;font-weight:bold;letter-spacing:0.0px;transform:rotate(180deg) scaleX(0.6986476256078371);">Accueil publi</span>
<span style="left:233.4px;top:327.9px;font-size:4.6px;line-height:4.6px;color:#000;font-weight:bold;letter-spacing:0.0px;transform:rotate(180deg) scaleX(0.6134104462680804);">Vestiaire  securite</span>
<span style="left:242.9px;top:333.3px;font-size:4.6px;line-height:4.6px;color:#000;font-weight:bold;letter-spacing:0.0px;transform:rotate(180deg) scaleX(0.9025373790824875);">Sanitaires </span>
<span style="left:216.2px;top:338.6px;font-size:4.6px;line-height:4.6px;color:#000;font-weight:bold;letter-spacing:0.0px;transform:rotate(180deg) scaleX(0.9677516910452727);">Descente  aux  plateau</span>
<span style="left:229.8px;top:344.0px;font-size:4.6px;line-height:4.6px;color:#000;font-weight:bold;letter-spacing:0.0px;transform:rotate(180deg) scaleX(0.701689119962375);">Tableau  electrique</span>
<span style="left:238.8px;top:349.3px;font-size:4.6px;line-height:4.6px;color:#000;font-weight:bold;letter-spacing:0.0px;transform:rotate(180deg) scaleX(0.9139848826900404);">R.I.A.  60  kg</span>
<span style="left:257.3px;top:354.7px;font-size:4.6px;line-height:4.6px;color:#000;font-weight:bold;letter-spacing:0.0px;transform:rotate(180deg) scaleX(0.6345020398249172);">Ilots</span>
<span style="left:214.4px;top:360.0px;font-size:4.6px;line-height:4.6px;color:#000;font-weight:bold;letter-spacing:0.0px;transform:rotate(180deg) scaleX(0.7376693027443604);">Extincteur  eau  pulverisee</span>
<span style="left:241.8px;top:365.4px;font-size:4.6px;line-height:4.6px;color:#000;font-weight:bold;letter-spacing:0.0px;transform:rotate(180deg) scaleX(0.6943821854423003);">Issue de sec</span>
<span style="left:224.4px;top:370.7px;font-size:4.6px;line-height:4.6px;color:#000;font-weight:bold;letter-spacing:0.0px;transform:rotate(180deg) scaleX(0.7564608170182071);">Bureau  organisateur</span>
<span style="left:232.4px;top:376.1px;font-size:4.6px;line-height:4.6px;color:#000;font-weight:bold;letter-spacing:0.0px;transform:rotate(180deg) scaleX(0.7989984967118802);">Local  technique</span>
<span style="left:215.3px;top:381.4px;font-size:4.6px;line-height:4.6px;color:#000;font-weight:bold;letter-spacing:0.0px;transform:rotate(180deg) scaleX(0.6463628623102087);">Poste  de  secours  medical</span>
<div style="left:196.6px;top:322.2px;width:26.8px;height:11.2px;background:transparent;box-sizing:border-box;border:1px dashed #46c;"></div>
<svg style="left:197px;top:323px" width="26" height="10"><path d="M1 1L25 9M1 9L25 1" stroke="#46c" stroke-width="0.6" stroke-dasharray="2 1.5" fill="none"/></svg>
<div style="left:201.0px;top:335.0px;width:11.8px;height:2.5px;background:#111;"></div>
<svg style="left:203px;top:340px" width="10" height="10"><g fill="none" stroke-width="0.9"><rect x="2.5" y="1" width="3" height="3" stroke="#393"/><circle cx="4" cy="7.3" r="1.6" stroke="#33a"/></g></svg>
<span style="left:184.3px;top:364.8px;font-size:7px;line-height:7px;color:#d22;font-weight:bold;transform:rotate(-90deg) scaleX(0.765);">Oxygene-Cafe</span>
<div style="left:265.5px;top:321.0px;width:1.0px;height:65.0px;background:#111;"></div>
<div style="left:196.0px;top:414.0px;width:12.0px;height:2.0px;background:transparent;"></div>
</body></html>
